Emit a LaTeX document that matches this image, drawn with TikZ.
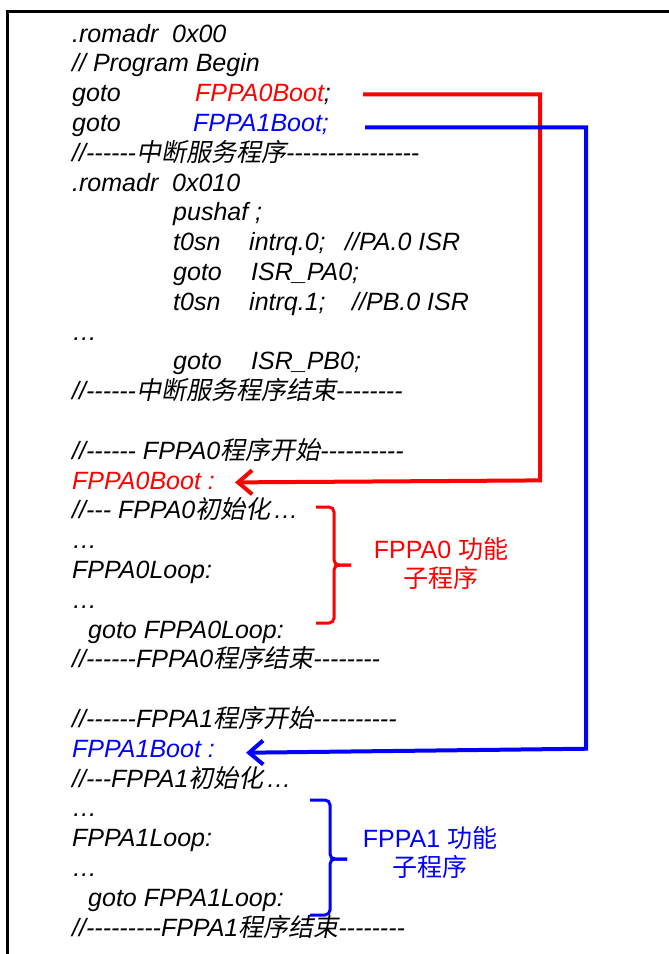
\documentclass[tikz,border=0pt]{standalone}
\usepackage{fontspec}
\setmainfont{Liberation Sans}[Ligatures=TeXOff]
\newfontfamily\zhit[FakeSlant=0.2]{Noto Sans CJK SC}
\newfontfamily\zhup{Noto Sans CJK SC}
\usetikzlibrary{arrows.meta}

\tikzset{
  code/.style={anchor=base west, inner sep=0pt, font=\fontsize{25}{30}\selectfont\itshape},
  note/.style={align=center, inner sep=0pt, font=\fontsize{25}{29}\selectfont},
  jump/.style={line width=4pt, line join=miter, -{Straight Barb[length=14pt,width=24pt]}},
  bracket/.style={line width=3pt, rounded corners=5pt}
}

\begin{document}
\begin{tikzpicture}[x=1pt, y=-1pt]
        \useasboundingbox (0,0) rectangle (669,954);
        \clip (0,0) rectangle (669,954);
        % frame, it runs out at the right and at the bottom
        \draw[line width=2.6pt] (700,11.5) -- (7.5,11.5) -- (7.5,1000);
        % reset vector
        \node[code] (org0) at (72,42) {.romadr\ \ 0x00};
        \node[code] (pbegin) at (72,71.8) {// Program Begin};
        \node[code] (gotoA) at (72,101.6) {goto};
        \node[code] (jmpA) at (195,101.6) {\textcolor{red}{FPPA0Boot};};
        \node[code] (gotoB) at (72,131.4) {goto};
        \node[code, blue] (jmpB) at (193,131.4) {FPPA1Boot;};
        % interrupt service routine
        \node[code] (isr) at (72,161.2) {//------{\zhit 中断服务程序}----------------};
        \node[code] (org1) at (72,191) {.romadr\ \ 0x010};
        \node[code] (push) at (173,220.8) {pushaf ;};
        \node[code] (tsnA) at (173,250.6) {t0sn};
        \node[code] (intA) at (249,250.6) {intrq.0;};
        \node[code] (remA) at (345,250.6) {//PA.0 ISR};
        \node[code] (gotoC) at (173,280.4) {goto};
        \node[code] (isrA) at (251,280.4) {ISR\_PA0;};
        \node[code] (tsnB) at (173,310.2) {t0sn};
        \node[code] (intB) at (249,310.2) {intrq.1;};
        \node[code] (remB) at (352,310.2) {//PB.0 ISR};
        \node[code] (dotsA) at (72,340) {…};
        \node[code] (gotoD) at (173,369.8) {goto};
        \node[code] (isrB) at (251,369.8) {ISR\_PB0;};
        \node[code] (isrend) at (72,399.6) {//------{\zhit 中断服务程序结束}--------};
        % FPPA0 program
        \node[code] (startA) at (72,459.2) {//------ FPPA0{\zhit 程序开始}----------};
        \node[code, red] (bootA) at (72,489) {FPPA0Boot :};
        \node[code] (initA) at (72,518.8) {//--- FPPA0{\zhit 初始化}\kern3pt…};
        \node[code] (dotsB) at (72,548.6) {…};
        \node[code] (loopA) at (72,578.4) {FPPA0Loop:};
        \node[code] (dotsC) at (72,608.2) {…};
        \node[code] (backA) at (88,638) {goto FPPA0Loop:};
        \node[code] (endA) at (72,667.8) {//------FPPA0{\zhit 程序结束}--------};
        % FPPA1 program
        \node[code] (startB) at (72,727.4) {//------FPPA1{\zhit 程序开始}----------};
        \node[code, blue] (bootB) at (72,757.2) {FPPA1Boot :};
        \node[code] (initB) at (72,787) {//---FPPA1{\zhit 初始化}\kern3pt…};
        \node[code] (dotsD) at (72,816.8) {…};
        \node[code] (loopB) at (72,846.6) {FPPA1Loop:};
        \node[code] (dotsE) at (72,876.4) {…};
        \node[code] (backB) at (88,906.2) {goto FPPA1Loop:};
        \node[code] (endB) at (72,936) {//---------FPPA1{\zhit 程序结束}--------};
        % jumps to the two boot labels
        \coordinate (busA) at (540,0);
        \coordinate (busB) at (586,0);
        \draw[jump, red] ([xshift=32pt]jmpA.east) -| (busA |- bootA.east) -- ([xshift=20pt, yshift=-2pt]bootA.east);
        \draw[jump, blue] ([xshift=36pt, yshift=-3pt]jmpB.east) -| (busB |- bootB.east) -- ([xshift=31pt, yshift=-4pt]bootB.east);
        % right braces
        \draw[bracket, red] (351,565) -- (334,565) -- (334,507) -- (316,507);
        \draw[bracket, red] (351,565) -- (334,565) -- (334,623) -- (316,623);
        \draw[bracket, blue] (347,859) -- (330,859) -- (330,800) -- (310,800);
        \draw[bracket, blue] (347,859) -- (330,859) -- (330,915) -- (310,915);
        % what the braces cover
        \node[note, red] (subA) at (441,564) {FPPA0 {\zhup 功能}\\{\zhup 子程序}};
        \node[note, blue] (subB) at (430,853) {FPPA1 {\zhup 功能}\\{\zhup 子程序}};
\end{tikzpicture}
\end{document}
